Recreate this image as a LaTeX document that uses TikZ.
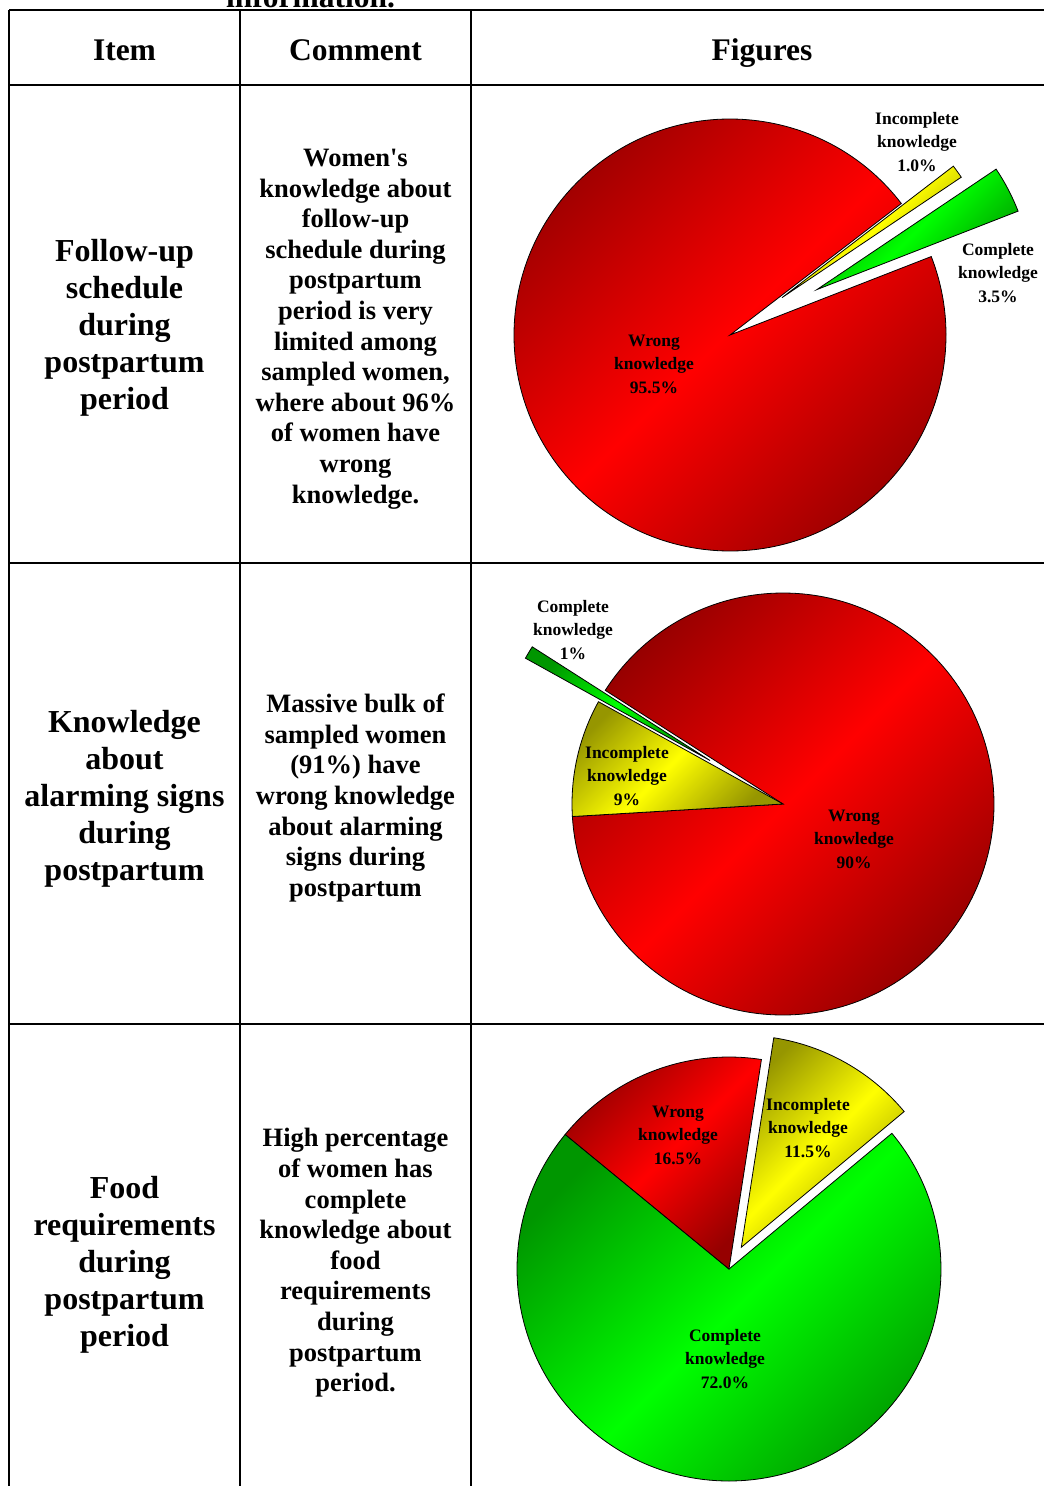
\documentclass[tikz,border=0pt]{standalone}
\usepackage{fontspec}
\setmainfont{Liberation Serif}
\usetikzlibrary{calc}
\definecolor{rdark}{RGB}{150,0,0}
\definecolor{gdark}{RGB}{0,150,0}
\definecolor{ydark}{RGB}{150,150,0}
\tikzset{
  rule/.style={line width=1.6pt},
  head/.style={font=\fontsize{31.5}{36}\selectfont\bfseries},
  itemtext/.style={align=center, font=\fontsize{32}{37}\selectfont\bfseries},
  note/.style={align=center, font=\fontsize{26.5}{30.6}\selectfont\bfseries},
  plabel/.style={align=center, font=\fontsize{17.5}{23.5}\selectfont\bfseries},
  part/.style={shading angle=45, draw=black, line width=.8pt},
  redpart/.style={top color=rdark, bottom color=rdark, middle color=red, part},
  greenpart/.style={top color=gdark, bottom color=gdark, middle color=green, part},
  yellowpart/.style={top color=ydark, bottom color=ydark, middle color=yellow, part}
}
% one wedge: apex, from, to, radius, style
\newcommand{\piewedge}[5]{\shadedraw[#5] (#1) -- ++(#2:#4) arc[start angle=#2, end angle=#3, radius=#4] -- cycle;}
\begin{document}
\begin{tikzpicture}[x=1pt, y=1pt]
\useasboundingbox (0,0) rectangle (1044,-1486);
% table
\foreach \y in {10,85,563,1024} \draw[rule] (9,-\y) -- (1044,-\y);
\foreach \x in {9,240,471} \draw[rule] (\x,-10) -- (\x,-1486);
\node[head, anchor=base] (caption) at (310.5,-7) {information.};
\node[head, anchor=base] (item) at (124.5,-60) {Item};
\node[head, anchor=base] (comment) at (355.5,-60) {Comment};
\node[head, anchor=base] (figures) at (762,-60) {Figures};

\node[itemtext] (itemA) at (124.5,-328) {Follow-up\\schedule\\during\\postpartum\\period};
\node[itemtext] (itemB) at (124.5,-799) {Knowledge\\about\\alarming signs\\during\\postpartum};
\node[itemtext] (itemC) at (124.5,-1265) {Food\\requirements\\during\\postpartum\\period};

\node[note] (noteA) at (355.5,-329) {Women\textquotesingle s\\knowledge about\\follow-up\\schedule during\\postpartum\\period is very\\limited among\\sampled women,\\where about 96\%\\of women have\\wrong\\knowledge.};
\node[note] (noteB) at (355.5,-798) {Massive bulk of\\sampled women\\(91\%) have\\wrong knowledge\\about alarming\\signs during\\postpartum};
\node[note] (noteC) at (355.5,-1263) {High percentage\\of women has\\complete\\knowledge about\\food\\requirements\\during\\postpartum\\period.};

% first pie
\coordinate (o1) at (730,-335);
\piewedge{o1}{37.5}{381.3}{216}{redpart}
\piewedge{$(o1)+(27.6:98)$}{21.3}{33.9}{216}{greenpart}
\piewedge{$(o1)+(35.7:64)$}{33.9}{37.5}{216}{yellowpart}
\node[plabel] (wrongA) at (654,-364) {Wrong\\knowledge\\95.5\%};
\node[plabel] (incA) at (917,-142) {Incomplete\\knowledge\\1.0\%};
\node[plabel] (compA) at (998,-273) {Complete\\knowledge\\3.5\%};

% second pie
\coordinate (o2) at (783,-804);
\piewedge{o2}{183.4}{507.4}{211}{redpart}
\piewedge{o2}{151}{183.4}{211}{yellowpart}
\piewedge{$(o2)+(149.2:85)$}{147.4}{151}{211}{greenpart}
\node[plabel] (compB) at (573,-630) {Complete\\knowledge\\1\%};
\node[plabel] (incB) at (627,-776) {Incomplete\\knowledge\\9\%};
\node[plabel] (wrongB) at (854,-839) {Wrong\\knowledge\\90\%};

% third pie
\coordinate (o3) at (729,-1269);
\piewedge{o3}{140.6}{399.8}{212}{greenpart}
\piewedge{o3}{81.2}{140.6}{212}{redpart}
\piewedge{$(o3)+(60.5:25)$}{39.8}{81.2}{212}{yellowpart}
\node[plabel] (wrongC) at (678,-1135) {Wrong\\knowledge\\16.5\%};
\node[plabel] (incC) at (808,-1128) {Incomplete\\knowledge\\11.5\%};
\node[plabel] (compC) at (725,-1359) {Complete\\knowledge\\72.0\%};
\end{tikzpicture}
\end{document}
